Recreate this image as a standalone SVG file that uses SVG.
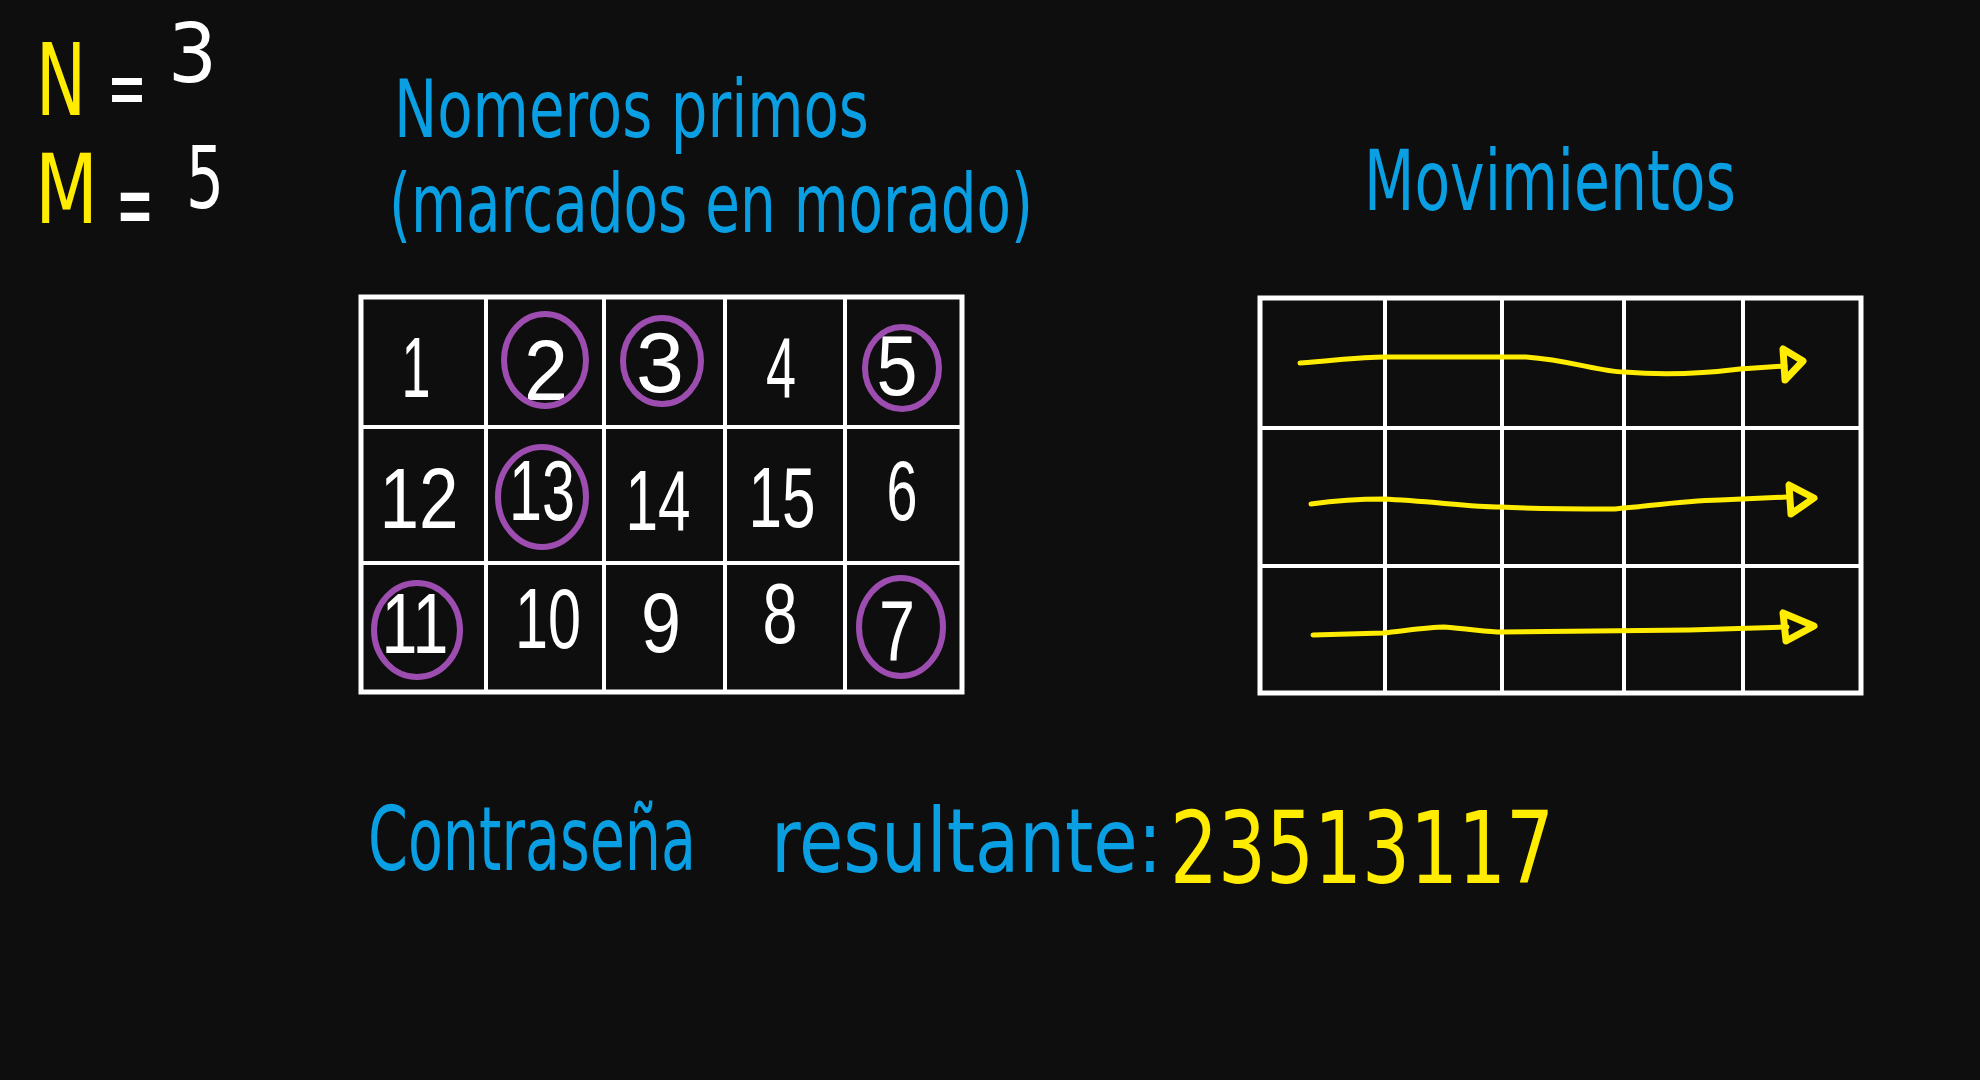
<svg xmlns="http://www.w3.org/2000/svg" width="1980" height="1080" viewBox="0 0 1980 1080">
<style>
.hand{font-family:"Liberation Sans Narrow","DejaVu Sans Condensed","Liberation Sans",sans-serif;font-stretch:condensed}
.blue{fill:#0a9fe3}
.yel{fill:#ffec00}
.wht{fill:#ffffff}
.num{font-family:"Liberation Sans Narrow","Liberation Sans",sans-serif;font-size:86px;fill:#ffffff;text-anchor:middle}
.grid{fill:none;stroke:#ffffff;stroke-width:5}
.gl{stroke:#ffffff;stroke-width:4}
.circ{fill:none;stroke:#9c4daf;stroke-width:6}
.arr{fill:none;stroke:#ffec00;stroke-width:5;stroke-linecap:round;stroke-linejoin:round}
.head{fill:none;stroke:#ffec00;stroke-width:7;stroke-linejoin:round;stroke-linecap:round}
</style>
<rect width="1980" height="1080" fill="#0e0e0e"/>

<g id="params">
<text class="hand yel" x="36" y="115" font-size="100" textLength="50" lengthAdjust="spacingAndGlyphs">N</text>
<text class="hand wht" x="107" y="117" font-size="85" textLength="40" lengthAdjust="spacingAndGlyphs">=</text>
<text class="hand wht" x="168" y="82" font-size="82" textLength="49" lengthAdjust="spacingAndGlyphs">3</text>
<text class="hand yel" x="35" y="223" font-size="96" textLength="63" lengthAdjust="spacingAndGlyphs">M</text>
<text class="hand wht" x="116" y="238" font-size="100" textLength="38" lengthAdjust="spacingAndGlyphs">=</text>
<text class="hand wht" x="186" y="208" font-size="85" textLength="38" lengthAdjust="spacingAndGlyphs">5</text>
</g>

<g id="titles">
<text class="hand blue" x="394" y="137" font-size="80" textLength="475" lengthAdjust="spacingAndGlyphs">Nomeros primos</text>
<text class="hand blue" x="389" y="232" font-size="82" textLength="644" lengthAdjust="spacingAndGlyphs">(marcados en morado)</text>
<text class="hand blue" x="1364" y="210" font-size="84" textLength="372" lengthAdjust="spacingAndGlyphs">Movimientos</text>
</g>

<g id="grid-primes">
<rect class="grid" x="361" y="297" width="601" height="395"/>
<line class="gl" x1="486" y1="297" x2="486" y2="692"/>
<line class="gl" x1="604" y1="297" x2="604" y2="692"/>
<line class="gl" x1="725" y1="297" x2="725" y2="692"/>
<line class="gl" x1="845" y1="297" x2="845" y2="692"/>
<line class="gl" x1="361" y1="427" x2="962" y2="427"/>
<line class="gl" x1="361" y1="563" x2="962" y2="563"/>
<text class="num" x="416" y="397" textLength="29" lengthAdjust="spacingAndGlyphs">1</text>
<text class="num" x="546" y="400" textLength="44" lengthAdjust="spacingAndGlyphs">2</text>
<text class="num" x="660" y="392" textLength="48" lengthAdjust="spacingAndGlyphs">3</text>
<text class="num" x="781" y="397" textLength="30" lengthAdjust="spacingAndGlyphs">4</text>
<text class="num" x="897" y="395" textLength="41" lengthAdjust="spacingAndGlyphs">5</text>
<text class="num" x="419" y="528" textLength="79" lengthAdjust="spacingAndGlyphs">12</text>
<text class="num" x="542" y="520" textLength="66" lengthAdjust="spacingAndGlyphs">13</text>
<text class="num" x="658" y="530" textLength="65" lengthAdjust="spacingAndGlyphs">14</text>
<text class="num" x="782" y="527" textLength="67" lengthAdjust="spacingAndGlyphs">15</text>
<text class="num" x="902" y="520" textLength="31" lengthAdjust="spacingAndGlyphs">6</text>
<text class="num" x="415" y="653" textLength="67" lengthAdjust="spacingAndGlyphs">11</text>
<text class="num" x="548" y="648" textLength="66" lengthAdjust="spacingAndGlyphs">10</text>
<text class="num" x="661" y="652" textLength="40" lengthAdjust="spacingAndGlyphs">9</text>
<text class="num" x="780" y="643" textLength="35" lengthAdjust="spacingAndGlyphs">8</text>
<text class="num" x="897" y="660" textLength="36" lengthAdjust="spacingAndGlyphs">7</text>
<ellipse class="circ" cx="545" cy="360" rx="41" ry="46"/>
<ellipse class="circ" cx="662" cy="361" rx="39" ry="43"/>
<ellipse class="circ" cx="902" cy="368" rx="37" ry="41"/>
<ellipse class="circ" cx="542" cy="497" rx="44" ry="50"/>
<ellipse class="circ" cx="417" cy="630" rx="43" ry="47"/>
<ellipse class="circ" cx="901" cy="627" rx="42" ry="49"/>
</g>

<g id="grid-moves">
<rect class="grid" x="1260" y="298" width="601" height="395"/>
<line class="gl" x1="1385" y1="298" x2="1385" y2="693"/>
<line class="gl" x1="1502" y1="298" x2="1502" y2="693"/>
<line class="gl" x1="1624" y1="298" x2="1624" y2="693"/>
<line class="gl" x1="1743" y1="298" x2="1743" y2="693"/>
<line class="gl" x1="1260" y1="428" x2="1861" y2="428"/>
<line class="gl" x1="1260" y1="566" x2="1861" y2="566"/>
</g>

<g id="connectors">
<path class="arr" d="M1300,363 C1340,360 1360,357 1385,357 L1526,357 C1570,360 1600,372 1624,372 C1660,375 1700,374 1740,369 L1785,366"/>
<path class="head" d="M1783,349 L1785,380 L1803,361 Z"/>
<path class="arr" d="M1311,504 C1340,500 1360,499 1383,499 C1430,501 1470,507 1501,507 C1530,509 1550,509 1615,509 C1650,506 1680,501 1720,500 L1787,497"/>
<path class="head" d="M1789,485 L1791,514 L1814,498 Z"/>
<path class="arr" d="M1313,635 L1383,633 C1410,630 1430,627 1444,627 C1470,629 1490,632 1501,632 L1689,630 L1787,627"/>
<path class="head" d="M1783,613 L1786,641 L1814,626 Z"/>
</g>

<g id="result">
<text class="hand blue" transform="translate(368,870) scale(1,1.3)" x="0" y="0" font-size="69" textLength="328" lengthAdjust="spacingAndGlyphs">Contraseña</text>
<text class="hand blue" transform="translate(771,872) scale(1,1.3)" x="0" y="0" font-size="69" textLength="391" lengthAdjust="spacingAndGlyphs">resultante:</text>
<text class="hand yel" x="1170" y="883" font-size="100" textLength="384" lengthAdjust="spacingAndGlyphs">23513117</text>
</g>
</svg>
